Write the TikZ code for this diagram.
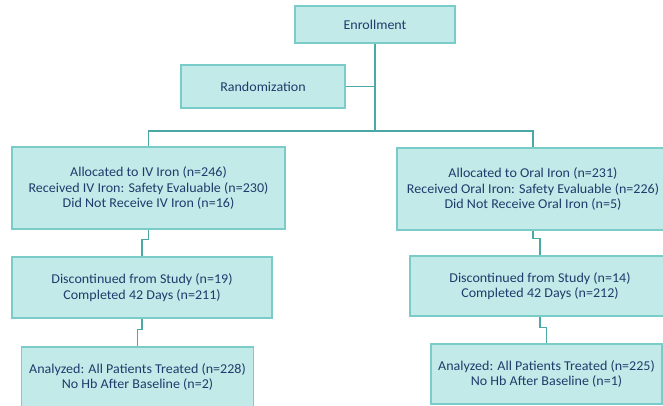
\documentclass[tikz,border=0pt]{standalone}
\usepackage{fontspec}
\setmainfont{Carlito}[FakeStretch=1.04]
\usepackage{tikz}
\usetikzlibrary{calc, positioning}
\usepackage{xcolor}
\definecolor{boxfill}{HTML}{C2EAE8}
\definecolor{boxline}{HTML}{7ACCC8}
\definecolor{linkline}{HTML}{4BA8A4}
\definecolor{boxtext}{HTML}{1F3B6B}

\begin{document}
\begin{tikzpicture}[x=1pt, y=-1pt,
    flowbox/.style={draw=boxline, fill=boxfill, line width=1.2pt, text=boxtext,
        align=center, inner sep=0pt, font=\fontsize{13.5}{15.5}\selectfont},
    link/.style={draw=linkline, line width=1.3pt}]
    % 画布
    \useasboundingbox (0,0) rectangle (663,406);

    % 方框
    \node[flowbox, minimum width=160, minimum height=37] (enroll) at (375,24.5) {Enrollment};
    \node[flowbox, minimum width=164, minimum height=43] (rand) at (263,86.5) {Randomization};

    \node[flowbox, minimum width=273, minimum height=82] (iv) at (148.5,188)
        {Allocated to IV Iron (n=246)\\Received IV Iron: Safety Evaluable (n=230)\\Did Not Receive IV Iron (n=16)};
    \node[flowbox, minimum width=272, minimum height=82] (oral) at (533,189)
        {Allocated to Oral Iron (n=231)\\Received Oral Iron: Safety Evaluable (n=226)\\Did Not Receive Oral Iron (n=5)};

    \node[flowbox, minimum width=260, minimum height=61] (ivdisc) at (142,287.5)
        {Discontinued from Study (n=19)\\Completed 42 Days (n=211)};
    \node[flowbox, minimum width=260, minimum height=60] (oraldisc) at (540,286)
        {Discontinued from Study (n=14)\\Completed 42 Days (n=212)};

    \node[flowbox, minimum width=232, minimum height=60] (ivfinal) at (137.5,377)
        {Analyzed: All Patients Treated (n=228)\\No Hb After Baseline (n=2)};
    \node[flowbox, minimum width=231, minimum height=60] (oralfinal) at (546.5,374)
        {Analyzed: All Patients Treated (n=225)\\No Hb After Baseline (n=1)};

    % 连线
    \coordinate (split) at (enroll.south |- 0,131);
    \draw[link] (enroll.south) -- (split);
    \draw[link] (rand.east) -- (rand.east -| enroll.south);
    \draw[link] (iv.north) |- (split) -| (oral.north);

    \draw[link] (iv.south) -- ++(0,10) -| (ivdisc.north);
    \draw[link] (ivdisc.south) -- ++(0,11) -| (ivfinal.north);
    \draw[link] (oral.south) -- ++(0,8) -| (oraldisc.north);
    \draw[link] (oraldisc.south) -- ++(0,11) -| (oralfinal.north);
\end{tikzpicture}
\end{document}
